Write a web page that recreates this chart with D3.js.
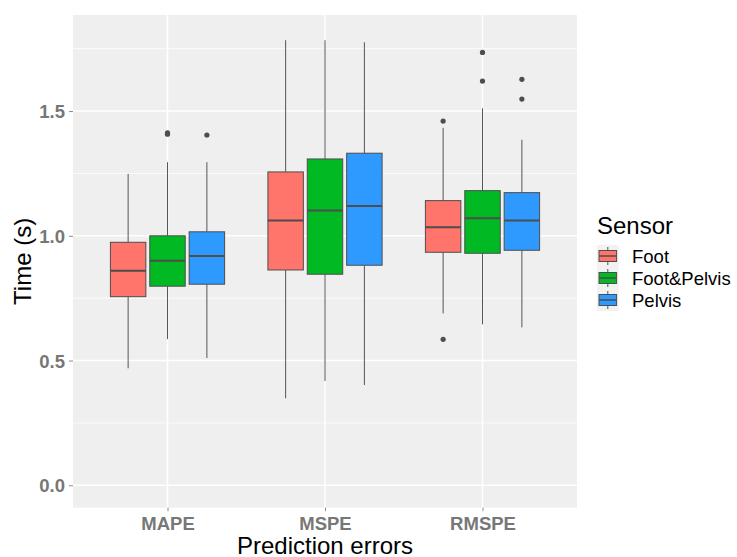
<!DOCTYPE html>
<html>
<head>
<meta charset="utf-8">
<script src="https://cdn.jsdelivr.net/npm/d3@7"></script>
<style>
  body { margin: 0; background: #fff; }
  svg { font-family: "Liberation Sans", Arial, sans-serif; }
</style>
</head>
<body>
<div id="chart"></div>
<script>
// Chart size and panel placement.
const WIDTH = 737;
const HEIGHT = 557;
const PANEL = { left: 73, right: 577, top: 15, bottom: 507.7 };

// Data.
const categories = ["MAPE", "MSPE", "RMSPE"];
const sensors = ["Foot", "Foot&Pelvis", "Pelvis"];
const sensorColors = ["#FF746B", "#00B923", "#2E9AFF"];
const yTicks = [0, 0.5, 1.0, 1.5];
const yMinorTicks = [0.25, 0.75, 1.25, 1.75];

// [lower whisker, q1, median, q3, upper whisker] per category
const footStats = [
  [0.469, 0.756, 0.860, 0.974, 1.248],
  [0.349, 0.863, 1.061, 1.256, 1.784],
  [0.689, 0.934, 1.034, 1.141, 1.433]
];
const footPelvisStats = [
  [0.586, 0.798, 0.900, 1.000, 1.295],
  [0.418, 0.846, 1.101, 1.308, 1.784],
  [0.645, 0.930, 1.070, 1.181, 1.511]
];
const pelvisStats = [
  [0.510, 0.806, 0.919, 1.016, 1.295],
  [0.402, 0.882, 1.119, 1.331, 1.776],
  [0.633, 0.942, 1.061, 1.173, 1.385]
];

// outliers per category
const footOutliers = [[], [], [1.460, 0.585]];
const footPelvisOutliers = [[1.407, 1.413], [], [1.735, 1.620]];
const pelvisOutliers = [[1.404], [], [1.627, 1.548]];

const allStats = [footStats, footPelvisStats, pelvisStats];
const allOutliers = [footOutliers, footPelvisOutliers, pelvisOutliers];

draw();

function draw () {
  const svg = d3.select("#chart").append("svg")
    .attr("width", WIDTH)
    .attr("height", HEIGHT);

  // Scales
  const xScale = d3.scalePoint()
    .domain(categories)
    .range([PANEL.left, PANEL.right])
    .padding(0.6);
  const step = xScale.step();
  const dodge = d3.scaleBand()
    .domain(sensors)
    .range([-0.375 * step, 0.375 * step])
    .paddingInner(0.1)
    .paddingOuter(0.05);
  const yScale = d3.scaleLinear()
    .domain([-0.0898, 1.885])
    .range([PANEL.bottom, PANEL.top]);

  // Panel background and grid
  svg.append("rect")
    .attr("x", PANEL.left).attr("y", PANEL.top)
    .attr("width", PANEL.right - PANEL.left)
    .attr("height", PANEL.bottom - PANEL.top)
    .attr("fill", "#EFEFEF");

  const grid = svg.append("g");
  grid.selectAll(".minor").data(yMinorTicks).enter().append("line")
    .attr("x1", PANEL.left).attr("x2", PANEL.right)
    .attr("y1", d => yScale(d)).attr("y2", d => yScale(d))
    .attr("stroke", "#fff").attr("stroke-width", 0.8);
  grid.selectAll(".major-y").data(yTicks).enter().append("line")
    .attr("x1", PANEL.left).attr("x2", PANEL.right)
    .attr("y1", d => yScale(d)).attr("y2", d => yScale(d))
    .attr("stroke", "#fff").attr("stroke-width", 1.5);
  grid.selectAll(".major-x").data(categories).enter().append("line")
    .attr("x1", d => xScale(d)).attr("x2", d => xScale(d))
    .attr("y1", PANEL.top).attr("y2", PANEL.bottom)
    .attr("stroke", "#fff").attr("stroke-width", 1.5);

  // Boxes
  const boxData = [];
  sensors.forEach((s, si) => {
    categories.forEach((c, ci) => {
      const st = allStats[si][ci];
      boxData.push({
        sensor: s, cat: c, color: sensorColors[si],
        lo: st[0], q1: st[1], med: st[2], q3: st[3], hi: st[4],
        outliers: allOutliers[si][ci]
      });
    });
  });

  const boxes = svg.append("g").selectAll("g").data(boxData).enter().append("g")
    .attr("transform", d => `translate(${xScale(d.cat) + dodge(d.sensor)},0)`);
  const bw = dodge.bandwidth();

  boxes.append("line")
    .attr("x1", bw / 2).attr("x2", bw / 2)
    .attr("y1", d => yScale(d.hi)).attr("y2", d => yScale(d.q3))
    .attr("stroke", "#555").attr("stroke-width", 1);
  boxes.append("line")
    .attr("x1", bw / 2).attr("x2", bw / 2)
    .attr("y1", d => yScale(d.q1)).attr("y2", d => yScale(d.lo))
    .attr("stroke", "#555").attr("stroke-width", 1);
  boxes.append("rect")
    .attr("x", 0).attr("width", bw)
    .attr("y", d => yScale(d.q3))
    .attr("height", d => yScale(d.q1) - yScale(d.q3))
    .attr("fill", d => d.color)
    .attr("stroke", "#4D4D4D").attr("stroke-width", 1);
  boxes.append("line")
    .attr("x1", 0).attr("x2", bw)
    .attr("y1", d => yScale(d.med)).attr("y2", d => yScale(d.med))
    .attr("stroke", "#4D4D4D").attr("stroke-width", 2);
  boxes.selectAll("circle").data(d => d.outliers).enter().append("circle")
    .attr("cx", bw / 2)
    .attr("cy", d => yScale(d))
    .attr("r", 2.6)
    .attr("fill", "#4D4D4D");

  // Axes
  const yAxis = d3.axisLeft(yScale).tickValues(yTicks)
    .tickFormat(d3.format(".1f")).tickSize(4).tickPadding(4);
  const yG = svg.append("g")
    .attr("transform", `translate(${PANEL.left},0)`)
    .call(yAxis);
  const xAxis = d3.axisBottom(xScale).tickSize(3.5).tickPadding(6);
  const xG = svg.append("g")
    .attr("transform", `translate(0,${PANEL.bottom})`)
    .call(xAxis);
  [yG, xG].forEach(g => {
    g.select(".domain").remove();
    g.selectAll(".tick line").attr("stroke", "#8A8A8A");
    g.selectAll(".tick text")
      .attr("fill", "#777")
      .attr("font-size", "18.5px")
      .attr("font-weight", "bold")
      .attr("font-family", "'Liberation Sans', Arial, sans-serif");
  });
  yG.selectAll(".tick text").attr("dy", "0.36em");

  // Axis titles
  svg.append("text")
    .attr("x", (PANEL.left + PANEL.right) / 2)
    .attr("y", 554)
    .attr("text-anchor", "middle")
    .attr("font-size", "24px")
    .attr("fill", "#000")
    .text("Prediction errors");
  svg.append("text")
    .attr("transform", `translate(31,${(PANEL.top + PANEL.bottom) / 2}) rotate(-90)`)
    .attr("text-anchor", "middle")
    .attr("font-size", "24px")
    .attr("fill", "#000")
    .text("Time (s)");

  // Legend
  const legend = svg.append("g").attr("transform", "translate(597,0)");
  legend.append("text")
    .attr("x", 0).attr("y", 234.3)
    .attr("font-size", "24px")
    .attr("fill", "#000")
    .text("Sensor");
  const rowH = 22;
  const rows = legend.selectAll(".row").data(sensors).enter().append("g")
    .attr("transform", (d, i) => `translate(0,${245 + i * rowH})`);
  rows.append("rect")
    .attr("width", 21.6).attr("height", rowH)
    .attr("fill", "#F2F2F2");
  rows.append("line")
    .attr("x1", 10.8).attr("x2", 10.8)
    .attr("y1", 2).attr("y2", rowH - 2)
    .attr("stroke", "#555");
  rows.append("rect")
    .attr("x", 2).attr("y", 5.5)
    .attr("width", 17.6).attr("height", 11)
    .attr("fill", (d, i) => sensorColors[i])
    .attr("stroke", "#4D4D4D");
  rows.append("line")
    .attr("x1", 2).attr("x2", 19.6)
    .attr("y1", rowH / 2).attr("y2", rowH / 2)
    .attr("stroke", "#4D4D4D").attr("stroke-width", 1.5);
  rows.append("text")
    .attr("x", 35).attr("y", rowH / 2)
    .attr("dy", "0.36em")
    .attr("font-size", "18.5px")
    .attr("fill", "#000")
    .text(d => d);
}
</script>
</body>
</html>
